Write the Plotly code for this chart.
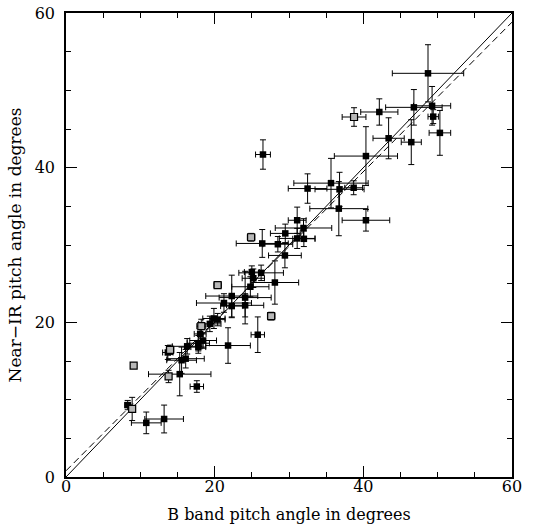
import plotly.graph_objects as go

# Filled points: B band angle, near-IR angle, errors
b_angle = [48.7, 46.8, 49.25, 49.4, 50.3, 46.45, 43.4, 42.15, 40.35, 35.65, 32.5, 36.8, 38.7,
           36.7, 40.35, 31.95, 31.1, 29.5, 31.1, 32.0,
           8.3, 10.8, 13.2, 15.3, 17.6, 13.7, 15.55, 16.1, 16.3, 18.05, 17.8, 18.45, 17.8,
           21.8, 19.35, 19.9, 20.4, 21.25, 22.3, 22.3, 24.1, 24.1, 24.8, 25.2, 25.0, 26.25,
           25.8, 28.1, 26.4, 28.5, 29.45, 26.5]
ir_angle = [52.2, 47.8, 48.0, 46.6, 44.5, 43.3, 43.8, 47.2, 41.5, 38.0, 37.3, 37.2, 37.4,
            34.7, 33.2, 32.2, 33.2, 31.5, 30.85, 30.8,
            9.3, 7.0, 7.5, 13.3, 11.7, 16.1, 15.1, 15.3, 16.9, 18.5, 17.3, 17.65, 16.8,
            17.0, 19.8, 20.5, 20.35, 22.5, 23.4, 22.1, 23.2, 22.2, 24.6, 25.7, 26.5, 26.4,
            18.4, 25.15, 30.2, 30.1, 28.65, 41.7]
b_err = [4.8, 3.8, 2.5, 0.7, 1.45, 1.35, 2.1, 2.5, 4.25, 5.0, 2.6, 3.3, 1.2,
         3.9, 3.2, 3.8, 1.2, 2.0, 2.4, 1.5,
         0.4, 2.0, 2.6, 4.2, 0.9, 0.7, 2.0, 2.5, 2.0, 0.8, 1.5, 1.8, 1.0,
         3.0, 1.5, 1.5, 1.0, 3.7, 3.5, 1.5, 3.5, 2.5, 2.5, 1.5, 1.0, 3.0,
         0.9, 3.2, 3.5, 2.0, 2.2, 1.0]
ir_err = [3.7, 2.3, 2.5, 0.9, 2.9, 2.9, 2.65, 1.7, 3.8, 3.2, 1.9, 2.2, 0.9,
          3.5, 1.4, 1.2, 1.7, 1.2, 1.3, 1.0,
          0.6, 1.4, 1.8, 2.8, 0.75, 0.9, 1.7, 1.2, 1.0, 1.0, 1.0, 1.0, 0.8,
          2.3, 1.0, 1.3, 0.8, 1.2, 2.7, 1.5, 3.4, 1.5, 1.3, 1.2, 0.8, 1.0,
          2.3, 2.8, 1.8, 1.0, 1.6, 1.9]

# Open (grey) points
b_open = [38.75, 8.9, 9.1, 13.8, 14.0, 18.2, 20.4, 27.6, 24.9]
ir_open = [46.55, 8.8, 14.4, 13.0, 16.45, 19.5, 24.8, 20.8, 31.0]
b_open_err = [1.6, 0.4, 0.4, 0.4, 0.5, 0.6, 0.5, 0.5, 0.5]
ir_open_err = [1.2, 1.5, 0.3, 0.8, 0.6, 0.9, 0.4, 0.5, 0.5]

axis_range = [0, 60]
fit_intercept = 0.8
fit_slope = 0.967

fig = go.Figure()

err_style = dict(type="data", color="black", thickness=1, width=3)

fig.add_trace(go.Scatter(
    x=axis_range, y=axis_range, mode="lines",
    line=dict(color="black", width=1), showlegend=False))
fig.add_trace(go.Scatter(
    x=axis_range, y=[fit_intercept + fit_slope * v for v in axis_range], mode="lines",
    line=dict(color="black", width=1, dash="7px,4px"), showlegend=False))

fig.add_trace(go.Scatter(
    x=b_angle, y=ir_angle, mode="markers",
    marker=dict(symbol="square", size=6.5, color="black"),
    error_x=dict(array=b_err, **err_style),
    error_y=dict(array=ir_err, **err_style),
    showlegend=False))
fig.add_trace(go.Scatter(
    x=b_open, y=ir_open, mode="markers",
    marker=dict(symbol="square", size=7, color="#b8b8b8", line=dict(color="black", width=1.2)),
    error_x=dict(array=b_open_err, **err_style),
    error_y=dict(array=ir_open_err, **err_style),
    showlegend=False))

font_family = "DejaVu Serif"
axis_common = dict(
    range=axis_range, dtick=20, tick0=0,
    ticks="inside", ticklen=11, tickwidth=1, tickcolor="black",
    minor=dict(dtick=5, ticks="inside", ticklen=5, tickwidth=1, tickcolor="black"),
    showline=True, linecolor="black", linewidth=1.5, mirror="ticks",
    showgrid=False, zeroline=False, automargin=False,
    tickfont=dict(family=font_family, size=16, color="black"),
)

fig.update_layout(
    width=543, height=525,
    margin=dict(l=66, r=31, t=13, b=48),
    plot_bgcolor="white", paper_bgcolor="white",
    xaxis=dict(**axis_common, ticklabelstandoff=-6,
               title=dict(text="B band pitch angle in degrees",
                          font=dict(family=font_family, size=16, color="black"),
                          standoff=14)),
    yaxis=dict(**axis_common, ticklabelstandoff=6,
               title=dict(text="Near\u2212IR pitch angle in degrees",
                          font=dict(family=font_family, size=17, color="black"),
                          standoff=9)),
)

fig.write_html("out.html", config={"displayModeBar": False},
               post_script="document.body.style.margin='0';")
